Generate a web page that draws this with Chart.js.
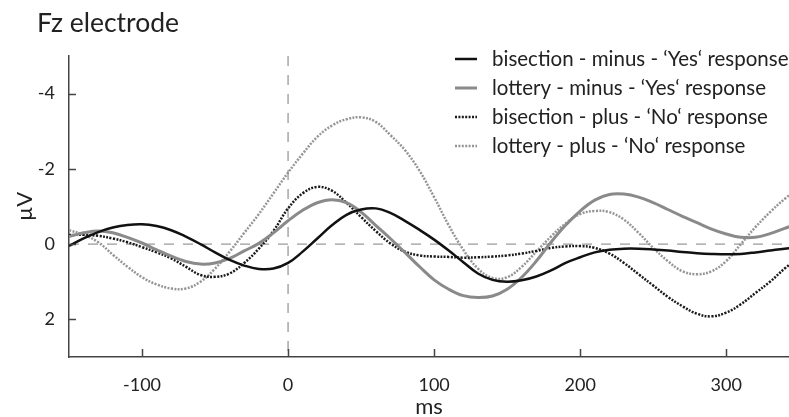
<!DOCTYPE html>
<html>
<head>
<meta charset="utf-8">
<script src="https://cdn.jsdelivr.net/npm/chart.js@4.4.1/dist/chart.umd.min.js"></script>
<style>
  html, body { margin: 0; padding: 0; background: #fff; }
</style>
</head>
<body>
<canvas id="erp" width="789" height="417"></canvas>
<script>
// time axis (ms) and the four ERP averages (µV)
const ms = [-150, -140, -130, -120, -110, -100, -90, -80, -70, -60, -50, -40, -30, -20, -10,
    0, 10, 20, 30, 40, 50, 60, 70, 80, 90, 100, 110, 120, 130, 140, 150, 160, 170, 180, 190,
    200, 210, 220, 230, 240, 250, 260, 270, 280, 290, 300, 310, 320, 330, 340, 350];

const bisectionMinusYes = [0.05, -0.15, -0.32, -0.44, -0.51, -0.53, -0.48, -0.37, -0.2, 0.0, 0.22,
    0.42, 0.57, 0.66, 0.65, 0.5, 0.2, -0.15, -0.5, -0.78, -0.92, -0.95, -0.83, -0.62, -0.38, -0.12,
    0.17, 0.48, 0.78, 0.95, 1.0, 0.96, 0.86, 0.7, 0.5, 0.35, 0.22, 0.15, 0.12, 0.12, 0.14, 0.17,
    0.21, 0.24, 0.26, 0.27, 0.26, 0.22, 0.17, 0.12, 0.08];

const lotteryMinusYes = [-0.2, -0.3, -0.35, -0.3, -0.18, -0.03, 0.15, 0.32, 0.46, 0.53, 0.5, 0.38,
    0.18, -0.02, -0.3, -0.62, -0.9, -1.1, -1.18, -1.1, -0.85, -0.5, -0.15, 0.22, 0.6, 0.95, 1.2,
    1.37, 1.42, 1.38, 1.2, 0.88, 0.45, -0.05, -0.5, -0.88, -1.17, -1.32, -1.33, -1.25, -1.1, -0.92,
    -0.74, -0.57, -0.4, -0.27, -0.18, -0.18, -0.28, -0.42, -0.55];

const bisectionPlusNo = [-0.24, -0.25, -0.22, -0.15, -0.05, 0.08, 0.22, 0.38, 0.6, 0.82, 0.87, 0.78,
    0.5, 0.12, -0.35, -0.95, -1.35, -1.52, -1.42, -1.1, -0.72, -0.35, -0.02, 0.2, 0.3, 0.33, 0.34,
    0.36, 0.35, 0.33, 0.3, 0.25, 0.18, 0.1, 0.06, 0.05, 0.1, 0.25, 0.5, 0.8, 1.1, 1.4, 1.65, 1.85,
    1.92, 1.82, 1.6, 1.3, 1.0, 0.65, 0.35];

const lotteryPlusNo = [-0.37, -0.25, -0.05, 0.28, 0.6, 0.88, 1.07, 1.18, 1.18, 1.0, 0.65, 0.2, -0.3,
    -0.8, -1.35, -1.9, -2.4, -2.85, -3.15, -3.32, -3.37, -3.25, -2.9, -2.5, -1.95, -1.25, -0.5, 0.15,
    0.65, 0.9, 0.88, 0.6, 0.2, -0.2, -0.55, -0.8, -0.88, -0.85, -0.65, -0.3, 0.1, 0.45, 0.72, 0.8,
    0.72, 0.45, 0.0, -0.45, -0.85, -1.2, -1.5];

const seriesNames = [
    'bisection - minus - ‘Yes‘ response',
    'lottery - minus - ‘Yes‘ response',
    'bisection - plus - ‘No‘ response',
    'lottery - plus - ‘No‘ response'
];
const xTicks = [-100, 0, 100, 200, 300];
const yTicks = [-4, -2, 0, 2];

const FONT = 'Lato';
const INK = '#222';

function points(vals) {
    return ms.map((t, i) => ({ x: t, y: vals[i] }));
}

function line(label, vals, color, width, dash) {
    return {
        label: label,
        data: points(vals),
        borderColor: color,
        borderWidth: width,
        borderDash: dash,
        borderCapStyle: 'butt',
        pointRadius: 0,
        tension: 0.4,
        fill: false
    };
}

// zero lines, inward tick marks, title and legend
const decor = {
    id: 'decor',
    beforeDatasetsDraw(chart) {
        const { ctx, chartArea: a, scales: { x, y } } = chart;
        const x0 = x.getPixelForValue(0);
        const y0 = y.getPixelForValue(0);
        ctx.save();
        ctx.strokeStyle = '#9a9a9a';
        ctx.lineWidth = 1.3;
        ctx.setLineDash([10, 9]);
        ctx.beginPath();
        ctx.moveTo(x0, a.top);
        ctx.lineTo(x0, a.bottom);
        ctx.moveTo(a.left, y0);
        ctx.lineTo(a.right, y0);
        ctx.stroke();
        ctx.restore();
    },
    afterDraw(chart) {
        const { ctx, chartArea: a, scales: { x, y } } = chart;
        ctx.save();
        ctx.strokeStyle = '#444';
        ctx.lineWidth = 1.5;
        ctx.beginPath();
        xTicks.forEach(v => {
            const px = Math.round(x.getPixelForValue(v)) + 0.5;
            ctx.moveTo(px, a.bottom);
            ctx.lineTo(px, a.bottom - 8);
        });
        yTicks.forEach(v => {
            const py = Math.round(y.getPixelForValue(v)) + 0.5;
            ctx.moveTo(a.left, py);
            ctx.lineTo(a.left + 7, py);
        });
        ctx.stroke();

        ctx.fillStyle = INK;
        ctx.font = '26.5px ' + FONT;
        ctx.textBaseline = 'alphabetic';
        ctx.fillText('Fz electrode', 37, 32);

        // legend
        ctx.font = '20.5px ' + FONT;
        ctx.textBaseline = 'middle';
        chart.data.datasets.forEach((ds, i) => {
            const ry = 59 + i * 29;
            ctx.strokeStyle = ds.borderColor;
            ctx.lineWidth = ds.borderWidth;
            ctx.setLineDash(ds.borderDash || []);
            ctx.beginPath();
            ctx.moveTo(455, ry);
            ctx.lineTo(477, ry);
            ctx.stroke();
            ctx.fillStyle = INK;
            ctx.fillText(ds.label, 492, ry);
        });
        ctx.restore();
    }
};

new Chart(document.getElementById('erp'), {
    type: 'line',
    data: {
        datasets: [
            line(seriesNames[0], bisectionMinusYes, '#111111', 2.5, []),
            line(seriesNames[1], lotteryMinusYes, '#8a8a8a', 3, []),
            line(seriesNames[2], bisectionPlusNo, '#1a1a1a', 2.5, [2, 1.4]),
            line(seriesNames[3], lotteryPlusNo, '#959595', 2.5, [2, 1.4])
        ]
    },
    options: {
        responsive: false,
        animation: false,
        devicePixelRatio: 1,
        layout: { padding: { top: 56, left: 0, right: 0, bottom: 0 } },
        plugins: {
            legend: { display: false },
            tooltip: { enabled: false }
        },
        scales: {
            x: {
                type: 'linear',
                min: -150,
                max: 343,
                afterBuildTicks: (s) => { s.ticks = xTicks.map(v => ({ value: v })); },
                afterFit: (s) => { s.height = 60; },
                grid: { display: true, drawOnChartArea: false, drawTicks: false },
                border: { display: true, color: '#444', width: 1.5 },
                ticks: { padding: 17, color: INK, font: { family: FONT, size: 18 } },
                title: {
                    display: true, text: 'ms', color: INK,
                    font: { family: FONT, size: 22, lineHeight: 1 },
                    padding: { top: 0, bottom: -1 }
                }
            },
            y: {
                type: 'linear',
                reverse: true,
                min: -5,
                max: 3,
                afterBuildTicks: (s) => { s.ticks = yTicks.map(v => ({ value: v })); },
                afterFit: (s) => { s.width = 69; },
                grid: { display: true, drawOnChartArea: false, drawTicks: false },
                border: { display: true, color: '#444', width: 1.5 },
                ticks: { padding: 14, color: INK, font: { family: FONT, size: 18 } },
                title: {
                    display: true, text: 'µV', color: INK,
                    font: { family: FONT, size: 22, lineHeight: 1 },
                    padding: { top: 14, bottom: 0 }
                }
            }
        }
    },
    plugins: [decor]
});
</script>
</body>
</html>
